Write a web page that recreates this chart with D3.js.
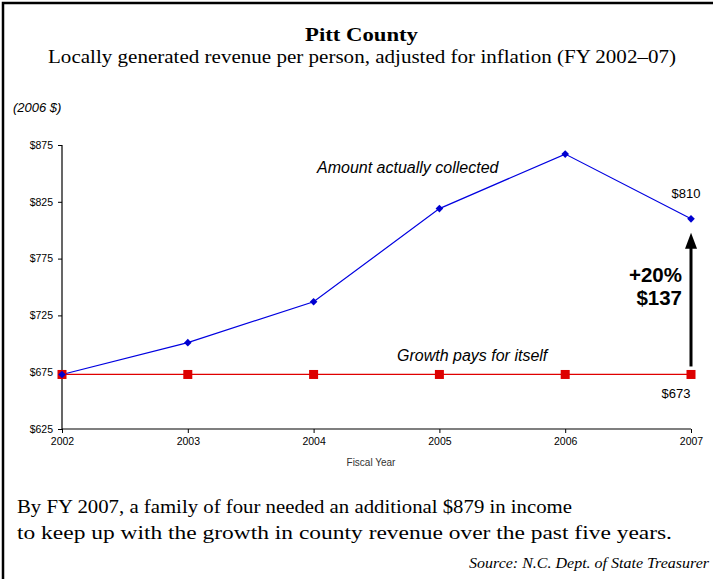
<!DOCTYPE html>
<html><head><meta charset="utf-8">
<script src="https://cdn.jsdelivr.net/npm/d3@7"></script>
<style>body{margin:0;background:#fff}svg{display:block}</style>
</head><body><svg id="c" width="713" height="579"></svg>
<script>
const years = [2002, 2003, 2004, 2005, 2006, 2007];
const collected = [673, 701, 737, 819, 867, 810];
const breakEven = [673, 673, 673, 673, 673, 673];
const yTicks = [625, 675, 725, 775, 825, 875];

const svg = d3.select("#c");
const serif = "'Liberation Serif', 'DejaVu Serif', serif";
const sans = "Arial, 'Liberation Sans', sans-serif";

svg.append("rect").attr("x", 3).attr("y", 3).attr("width", 730).attr("height", 600)
  .attr("fill", "none").attr("stroke", "#000").attr("stroke-width", 2.5);

const x = d3.scaleLinear().domain([2002, 2007]).range([62, 691]);
const y = d3.scaleLinear().domain([625, 875]).range([429, 145]);

function fitText(xp, yp, txt, size, len, anchor, opts) {
  const t = svg.append("text").attr("x", xp).attr("y", yp).attr("text-anchor", anchor || "start")
    .attr("font-family", serif).attr("font-size", size)
    .attr("textLength", len).attr("lengthAdjust", "spacingAndGlyphs").text(txt);
  if (opts) Object.entries(opts).forEach(([k, v]) => t.attr(k, v));
  return t;
}
fitText(361.5, 41, "Pitt County", 19.5, 113, "middle", {"font-weight": "bold"});
fitText(362, 63, "Locally generated revenue per person, adjusted for inflation (FY 2002–07)", 19.5, 628, "middle");
svg.append("text").attr("x", 13).attr("y", 112).attr("font-family", sans).attr("font-style", "italic")
  .attr("font-size", 13).text("(2006 $)");

const yAxis = d3.axisLeft(y).tickValues(yTicks).tickFormat(d => "$" + d).tickSize(4).tickPadding(5);
const gy = svg.append("g").attr("transform", "translate(62,0)").call(yAxis);
const xAxis = d3.axisBottom(x).tickValues(years).tickFormat(d3.format("d")).tickSize(4).tickPadding(5);
const gx = svg.append("g").attr("transform", "translate(0,429)").call(xAxis);
[gy, gx].forEach(g => {
  g.select(".domain").attr("stroke", "#000").attr("stroke-width", 1.2);
  g.selectAll(".tick line").attr("stroke", "#000");
  g.selectAll("text").attr("font-family", sans).attr("font-size", 10.5).attr("fill", "#000");
});
gx.select(".domain").attr("d", "M62,0H691");
gy.select(".domain").attr("d", "M0,145V429");

svg.append("text").attr("x", 371).attr("y", 466).attr("text-anchor", "middle")
  .attr("font-family", sans).attr("font-size", 10).attr("fill", "#333").text("Fiscal Year");

const line = d3.line().x((d, i) => x(years[i])).y(d => y(d));
svg.append("path").datum(breakEven).attr("d", line).attr("fill", "none").attr("stroke", "#e00000").attr("stroke-width", 1.3);
svg.append("path").datum(collected).attr("d", line).attr("fill", "none").attr("stroke", "#0000e0").attr("stroke-width", 1.2);

svg.selectAll(".sq").data(breakEven).join("rect")
  .attr("x", (d, i) => x(years[i]) - 4.5).attr("y", d => y(d) - 4.5)
  .attr("width", 9).attr("height", 9).attr("fill", "#dd0000");
svg.selectAll(".dm").data(collected).join("path")
  .attr("transform", (d, i) => `translate(${x(years[i])},${y(d)})`)
  .attr("d", "M0,-3.8L3.8,0L0,3.8L-3.8,0Z").attr("fill", "#0000d0");

svg.append("text").attr("x", 317).attr("y", 173).attr("font-family", sans).attr("font-style", "italic")
  .attr("font-size", 16).text("Amount actually collected");
svg.append("text").attr("x", 397).attr("y", 361).attr("font-family", sans).attr("font-style", "italic")
  .attr("font-size", 16).text("Growth pays for itself");

svg.append("text").attr("x", 686).attr("y", y(collected[5]) - 21).attr("text-anchor", "middle")
  .attr("font-family", sans).attr("font-size", 13).text("$" + collected[5]);
svg.append("text").attr("x", 676).attr("y", y(breakEven[5]) + 24).attr("text-anchor", "middle")
  .attr("font-family", sans).attr("font-size", 13).text("$" + breakEven[5]);

const diff = collected[5] - breakEven[5];
const pct = Math.round(diff / breakEven[5] * 100);
const ax = x(2007), aTop = y(collected[5]) + 14, aBot = y(breakEven[5]) - 8;
svg.append("line").attr("x1", ax).attr("x2", ax).attr("y1", aBot).attr("y2", aTop + 12)
  .attr("stroke", "#000").attr("stroke-width", 3);
svg.append("path").attr("d", `M${ax},${aTop}L${ax + 6},${aTop + 16}L${ax - 6},${aTop + 16}Z`).attr("fill", "#000");
svg.append("text").attr("x", 682).attr("y", 282).attr("text-anchor", "end")
  .attr("font-family", sans).attr("font-weight", "bold").attr("font-size", 20.5).text("+" + pct + "%");
svg.append("text").attr("x", 682).attr("y", 305).attr("text-anchor", "end")
  .attr("font-family", sans).attr("font-weight", "bold").attr("font-size", 20.5).text("$" + diff);

fitText(17, 513, "By FY 2007, a family of four needed an additional $879 in income", 19.5, 555);
fitText(17, 539, "to keep up with the growth in county revenue over the past five years.", 19.5, 655);
fitText(709, 568, "Source: N.C. Dept. of State Treasurer", 15, 240, "end", {"font-style": "italic"});
</script></body></html>
